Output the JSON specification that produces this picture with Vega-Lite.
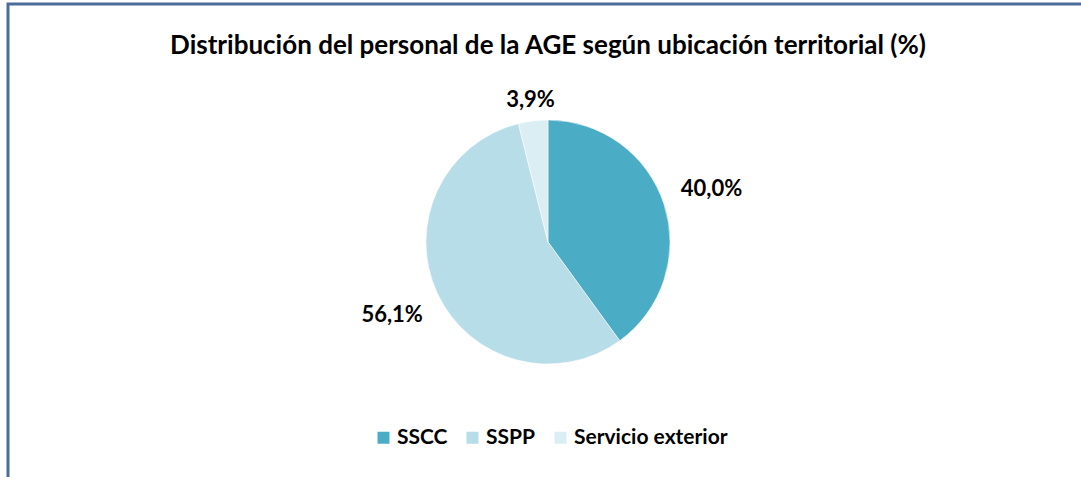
{
  "$schema": "https://vega.github.io/schema/vega-lite/v6.json",
  "autosize": "none",
  "width": 1080,
  "height": 476,
  "padding": {"left": 8, "top": 4, "right": -7, "bottom": -3},
  "background": "white",
  "view": {"stroke": "#4A6D9C", "strokeWidth": 3, "fill": "white", "strokeDash": [1073, 1546, 700]},
  "title": {
    "text": "Distribución del personal de la AGE según ubicación territorial (%)",
    "font": "Lato",
    "fontSize": 26,
    "fontWeight": "bold",
    "color": "#000000",
    "anchor": "middle",
    "baseline": "middle",
    "offset": -66,
    "dy": 2
  },
  "data": {
    "values": [
      {"categoria": "SSCC", "valor": 40.0, "etiqueta": "40,0%", "orden": 1},
      {"categoria": "SSPP", "valor": 56.1, "etiqueta": "56,1%", "orden": 2},
      {"categoria": "Servicio exterior", "valor": 3.9, "etiqueta": "3,9%", "orden": 3}
    ]
  },
  "encoding": {
    "theta": {"field": "valor", "type": "quantitative", "stack": true},
    "order": {"field": "orden", "type": "quantitative"}
  },
  "layer": [
    {
      "mark": {"type": "arc", "outerRadius": 122, "stroke": "white", "strokeWidth": 0.5},
      "encoding": {
        "color": {
          "field": "categoria",
          "type": "nominal",
          "scale": {
            "domain": ["SSCC", "SSPP", "Servicio exterior"],
            "range": ["#4BACC6", "#B7DDE8", "#DAEEF3"]
          },
          "legend": {
            "title": null,
            "orient": "none",
            "direction": "horizontal",
            "legendX": 365,
            "legendY": 423,
            "symbolType": "square",
            "symbolSize": 144,
            "symbolStrokeWidth": 0,
            "labelFont": "Lato",
            "labelFontSize": 21,
            "labelFontWeight": "bold",
            "labelColor": "#000000",
            "labelOffset": 3,
            "columnPadding": 14,
            "labelLimit": 300
          }
        }
      }
    },
    {
      "mark": {
        "type": "text",
        "font": "Lato",
        "fontSize": 22,
        "fontWeight": "bold",
        "color": "#000000"
      },
      "encoding": {
        "text": {"field": "etiqueta", "type": "nominal"},
        "radius": {
          "field": "valor",
          "type": "quantitative",
          "scale": {"type": "linear", "domain": [3.9, 40], "range": [143, 172], "clamp": true, "zero": false}
        }
      }
    }
  ]
}
